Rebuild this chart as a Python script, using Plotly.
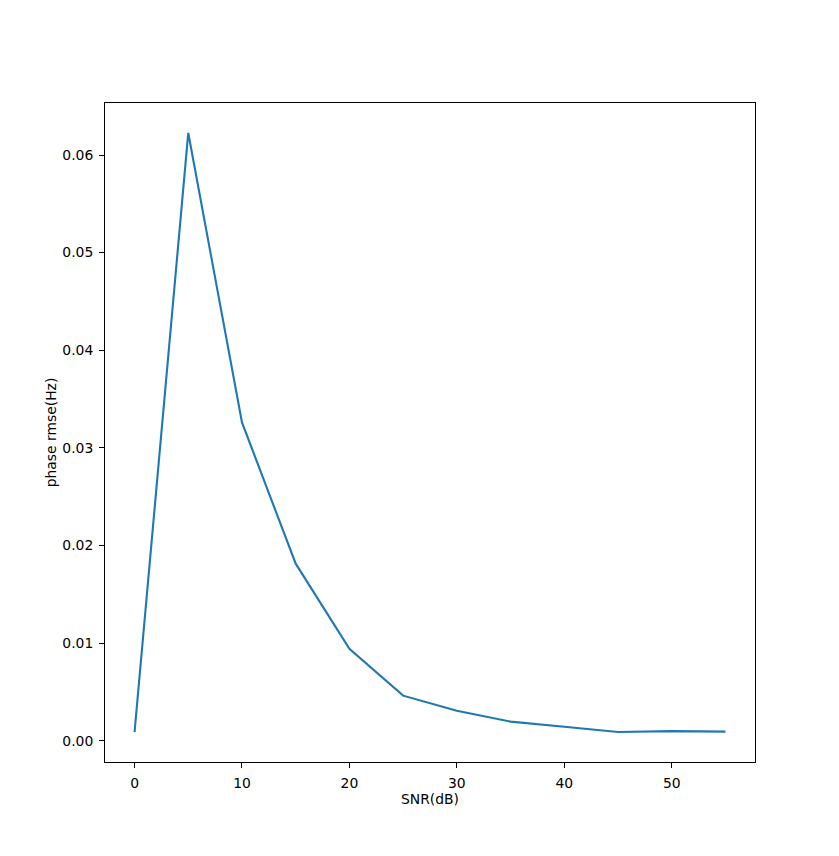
import plotly.graph_objects as go

snr_db = [0, 5, 10, 15, 20, 25, 30, 35, 40, 45, 50, 55]
phase_rmse = [0.00088, 0.06226, 0.0326, 0.01813, 0.00942, 0.00461, 0.00307,
              0.00195, 0.00143, 0.00089, 0.00097, 0.00092]
x_ticks = [0, 10, 20, 30, 40, 50]
y_ticks = [0.00, 0.01, 0.02, 0.03, 0.04, 0.05, 0.06]

fig = go.Figure()
fig.add_trace(go.Scatter(x=snr_db, y=phase_rmse, mode="lines",
                         line=dict(color="#1f77b4", width=2.1),
                         showlegend=False))

font = dict(family="DejaVu Sans", size=13.9, color="black")
axis_common = dict(showline=True, mirror=True, linecolor="black", linewidth=1.1,
                   ticks="outside", ticklen=4.9, tickwidth=1.1, tickcolor="black",
                   showgrid=False, zeroline=False, tickfont=font)

xmin, xmax = min(snr_db), max(snr_db)
xpad = (xmax - xmin) * 0.05
ymin, ymax = min(phase_rmse), max(phase_rmse)
ypad = (ymax - ymin) * 0.05

fig.update_layout(
    width=839, height=856,
    margin=dict(l=105, r=84, t=103, b=94),
    paper_bgcolor="white", plot_bgcolor="white",
    font=font,
    xaxis=dict(range=[xmin - xpad, xmax + xpad], tickvals=x_ticks,
               ticktext=[str(v) for v in x_ticks],
               title=dict(text="SNR(dB)", font=font, standoff=2),
               ticklabelstandoff=3, **axis_common),
    yaxis=dict(range=[ymin - ypad, ymax + ypad], tickvals=y_ticks,
               ticktext=[f"{v:.2f}" for v in y_ticks],
               title=dict(text="phase rmse(Hz)", font=font, standoff=2),
               ticklabelstandoff=3, **axis_common),
)

fig.write_html("out.html")
